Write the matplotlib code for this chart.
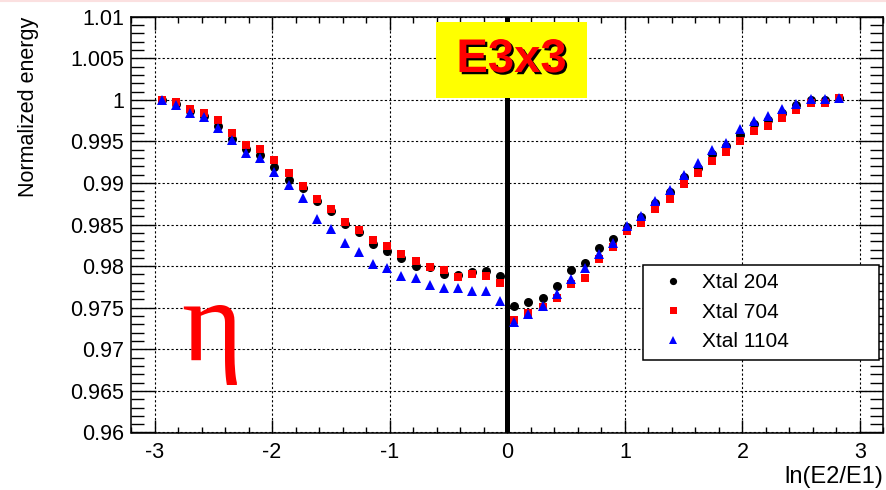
import matplotlib

matplotlib.use("Agg")
import matplotlib.pyplot as plt
from matplotlib import patheffects, ticker
from matplotlib.patches import Rectangle

# bin centres in ln(E2/E1)
log_ratio = [-2.94, -2.82, -2.70, -2.58, -2.46, -2.34, -2.22, -2.10, -1.98, -1.86,
             -1.74, -1.62, -1.50, -1.38, -1.26, -1.14, -1.02, -0.90, -0.78, -0.66,
             -0.54, -0.42, -0.30, -0.18, -0.06, 0.06, 0.18, 0.30, 0.42, 0.54,
             0.66, 0.78, 0.90, 1.02, 1.14, 1.26, 1.38, 1.50, 1.62, 1.74,
             1.86, 1.98, 2.10, 2.22, 2.34, 2.46, 2.58, 2.70, 2.82]

xtal_204 = [1.0000, 0.9995, 0.9987, 0.9981, 0.9968, 0.99535, 0.9941, 0.99336, 0.99196, 0.99036,
            0.98944, 0.98788, 0.98667, 0.98511, 0.98407, 0.98268, 0.98187, 0.98094, 0.98001, 0.97995,
            0.97911, 0.97897, 0.97929, 0.97941, 0.97887, 0.97527, 0.97575, 0.97617, 0.97759, 0.97959,
            0.98043, 0.98222, 0.98323, 0.98472, 0.98595, 0.98763, 0.98887, 0.99067, 0.99184, 0.99343,
            0.99442, 0.99574, 0.99708, 0.99760, 0.99848, 0.99940, 0.99996, 0.99996, 1.00020]

xtal_704 = [1.0000, 0.99976, 0.99896, 0.99840, 0.99756, 0.99600, 0.99456, 0.99415, 0.99280, 0.99120,
            0.98959, 0.98808, 0.98691, 0.98527, 0.98437, 0.98313, 0.98244, 0.98148, 0.98067, 0.97987,
            0.97950, 0.97867, 0.97911, 0.97887, 0.97803, 0.97347, 0.97437, 0.97509, 0.97615, 0.97784,
            0.97856, 0.98088, 0.98227, 0.98418, 0.98515, 0.98682, 0.98812, 0.98988, 0.99115, 0.99264,
            0.99372, 0.99508, 0.99628, 0.99688, 0.99776, 0.99876, 0.99968, 0.99968, 1.00028]

xtal_1104 = [1.0000, 0.99936, 0.99848, 0.99788, 0.99660, 0.99516, 0.99367, 0.99300, 0.99136, 0.98976,
             0.98815, 0.98568, 0.98448, 0.98275, 0.98172, 0.98024, 0.97983, 0.97884, 0.97855, 0.97773,
             0.97743, 0.97737, 0.97702, 0.97699, 0.97587, 0.97323, 0.97423, 0.97525, 0.97667, 0.97844,
             0.97976, 0.98145, 0.98281, 0.98487, 0.98607, 0.98787, 0.98922, 0.99098, 0.99241, 0.99394,
             0.99487, 0.99648, 0.99748, 0.99808, 0.99896, 0.99956, 1.00008, 1.00008, 1.00028]

series_labels = ["Xtal 204", "Xtal 704", "Xtal 1104"]

plt.rcParams["font.family"] = ["Liberation Sans", "DejaVu Sans"]
plt.rcParams["axes.unicode_minus"] = False

W, H = 887, 490
fig = plt.figure(figsize=(W / 100, H / 100), dpi=100)
ax = fig.add_axes([131 / W, 1 - 432.5 / H, 752.5 / W, 415.8 / H])

ax.axvline(0, color="black", lw=3.6, zorder=2)

ax.plot(log_ratio, xtal_204, "o", color="black", ms=6.5, mew=0, label=series_labels[0], zorder=3)
ax.plot(log_ratio, xtal_704, "s", color="#ff0000", ms=6.3, mew=0, label=series_labels[1], zorder=4)
ax.plot(log_ratio, xtal_1104, "^", color="#0000ff", ms=7.2, mew=0, label=series_labels[2], zorder=5)

ax.set_xlim(-3.2, 3.2)
ax.set_ylim(0.96, 1.01)
ax.xaxis.set_major_locator(ticker.MultipleLocator(1))
ax.xaxis.set_minor_locator(ticker.MultipleLocator(0.2))
ax.yaxis.set_major_locator(ticker.MultipleLocator(0.005))
ax.yaxis.set_minor_locator(ticker.MultipleLocator(0.001))
ax.yaxis.set_major_formatter(ticker.FormatStrFormatter("%g"))
ax.grid(True, which="major", color="black", lw=0.8, linestyle=(0, (2, 2)), zorder=1)
ax.set_axisbelow(True)

ax.tick_params(axis="both", which="both", direction="in", top=True, right=True,
               labelsize=15.5, color="black", width=1.0)
ax.tick_params(axis="x", which="major", length=9.4, pad=6.5)
ax.tick_params(axis="x", which="minor", length=4.5)
ax.tick_params(axis="y", which="major", length=18, pad=5)
ax.tick_params(axis="y", which="minor", length=9.4)
for s in ax.spines.values():
    s.set_linewidth(1.1)

ax.set_ylabel("Normalized energy", fontsize=15.5, loc="top")
ax.yaxis.set_label_coords(-0.1223, 1.0)
ax.set_xlabel("ln(E2/E1)", fontsize=17, loc="right")
ax.xaxis.set_label_coords(1.0, -0.080)

leg = ax.legend(loc="upper left", bbox_to_anchor=(0.6804, 0.0, 0.3136, 0.4028),
                mode="expand", borderaxespad=0, fontsize=15, frameon=True,
                fancybox=False, framealpha=1, edgecolor="black",
                borderpad=0.4, handlelength=2.08, handletextpad=0.35,
                labelspacing=0.5, markerscale=0.8)
leg.get_frame().set_linewidth(1.1)
leg.set_zorder(10)

# yellow "E3x3" box over the top of the frame
fig.add_artist(Rectangle((436 / W, 1 - 98 / H), 151 / W, 76 / H,
                         transform=fig.transFigure, facecolor="#ffff00",
                         edgecolor="none", zorder=20))
fig.text(511.5 / W, 1 - 60 / H, "E3x3", ha="center", va="center",
         fontsize=34, fontweight="bold", color="#ff0000", zorder=22,
         path_effects=[patheffects.withSimplePatchShadow(offset=(1.6, -1.6),
                                                         shadow_rgbFace="black", alpha=1.0)])

fig.text(181 / W, 1 - 360 / H, "\u03b7", ha="left", va="baseline",
         fontsize=84, color="#ff0000", family=["Liberation Serif", "DejaVu Serif"])

fig.add_artist(plt.Line2D([0, 1], [1 - 1 / H, 1 - 1 / H], transform=fig.transFigure,
                          color="#fbe0e0", lw=1.5))

fig.savefig("out.png", dpi=100)
